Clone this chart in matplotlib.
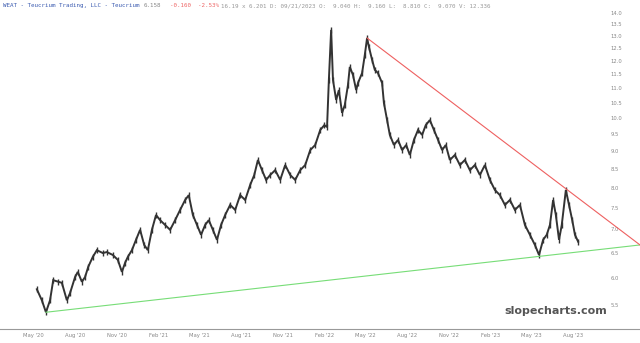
import matplotlib
matplotlib.use('Agg')
import matplotlib.pyplot as plt
import matplotlib.ticker as mticker
import numpy as np
import pandas as pd

# ------------------------------------------------------------ #
# ---------------- data -------------------------------------- #
# ------------------------------------------------------------ #
dates = ['2020-05-09', '2020-05-20', '2020-05-29', '2020-06-07', '2020-06-14', '2020-06-25',
         '2020-07-03', '2020-07-14', '2020-07-21', '2020-08-01', '2020-08-07', '2020-08-16',
         '2020-08-23', '2020-08-30', '2020-09-09', '2020-09-18', '2020-10-01', '2020-10-10',
         '2020-10-23', '2020-11-03', '2020-11-12', '2020-11-19', '2020-11-25', '2020-12-04',
         '2020-12-13', '2020-12-22', '2020-12-31', '2021-01-08', '2021-01-17', '2021-01-26',
         '2021-02-04', '2021-02-15', '2021-02-26', '2021-03-09', '2021-03-20', '2021-03-31',
         '2021-04-08', '2021-04-17', '2021-04-26', '2021-05-05', '2021-05-14', '2021-05-22',
         '2021-05-31', '2021-06-09', '2021-06-18', '2021-06-27', '2021-07-08', '2021-07-19',
         '2021-07-30', '2021-08-10', '2021-08-21', '2021-08-30', '2021-09-07', '2021-09-16',
         '2021-09-25', '2021-10-04', '2021-10-15', '2021-10-26', '2021-11-06', '2021-11-17',
         '2021-11-28', '2021-12-09', '2021-12-20', '2021-12-31', '2022-01-11', '2022-01-22',
         '2022-01-31', '2022-02-06', '2022-02-10', '2022-02-15', '2022-02-19', '2022-02-26',
         '2022-03-04', '2022-03-11', '2022-03-17', '2022-03-24', '2022-03-28', '2022-04-04',
         '2022-04-11', '2022-04-15', '2022-04-24', '2022-04-30', '2022-05-05', '2022-05-09',
         '2022-05-16', '2022-05-22', '2022-05-29', '2022-06-07', '2022-06-11', '2022-06-18',
         '2022-06-24', '2022-07-03', '2022-07-12', '2022-07-21', '2022-07-30', '2022-08-07',
         '2022-08-16', '2022-08-25', '2022-09-03', '2022-09-11', '2022-09-20', '2022-09-29',
         '2022-10-08', '2022-10-17', '2022-10-25', '2022-11-03', '2022-11-14', '2022-11-25',
         '2022-12-06', '2022-12-17', '2022-12-28', '2023-01-08', '2023-01-19', '2023-01-30',
         '2023-02-10', '2023-02-21', '2023-03-04', '2023-03-15', '2023-03-26', '2023-04-06',
         '2023-04-17', '2023-04-28', '2023-05-09', '2023-05-18', '2023-05-27', '2023-06-04',
         '2023-06-11', '2023-06-18', '2023-06-24', '2023-07-01', '2023-07-07', '2023-07-16',
         '2023-07-23', '2023-07-30', '2023-08-05', '2023-08-12']
close = [5.78, 5.58, 5.37, 5.58, 5.95, 5.92,
         5.90, 5.58, 5.71, 6.01, 6.11, 5.92,
         6.01, 6.21, 6.41, 6.55, 6.49, 6.51,
         6.45, 6.35, 6.11, 6.29, 6.41, 6.55,
         6.77, 6.99, 6.66, 6.55, 6.99, 7.33,
         7.21, 7.10, 6.99, 7.21, 7.45, 7.69,
         7.81, 7.33, 7.10, 6.88, 7.10, 7.21,
         6.99, 6.77, 7.10, 7.33, 7.57, 7.45,
         7.81, 7.69, 8.07, 8.33, 8.74, 8.46,
         8.20, 8.33, 8.46, 8.20, 8.60, 8.33,
         8.20, 8.46, 8.60, 9.02, 9.17, 9.62,
         9.77, 9.71, 11.29, 13.25, 11.29, 10.59,
         10.93, 10.16, 10.42, 11.11, 11.77, 11.47,
         10.93, 11.18, 11.54, 12.23, 12.91, 12.55,
         12.04, 11.66, 11.54, 11.18, 10.49, 9.93,
         9.47, 9.17, 9.32, 9.02, 9.17, 8.88,
         9.32, 9.62, 9.47, 9.77, 9.93, 9.62,
         9.32, 9.02, 9.17, 8.74, 8.88, 8.60,
         8.74, 8.46, 8.60, 8.33, 8.60, 8.20,
         7.94, 7.81, 7.57, 7.69, 7.45, 7.57,
         7.10, 6.88, 6.66, 6.45, 6.77, 6.88,
         7.10, 7.69, 7.33, 6.77, 7.10, 7.94,
         7.57, 7.21, 6.88, 6.73]

# trendlines (start, end)
support_dates = ['2020-05-29', '2023-12-26']
support_vals = [5.37, 6.66]
resist_dates = ['2022-05-05', '2023-12-26']
resist_vals = [12.91, 6.66]

xtick_dates = ['2020-05-01', '2020-08-01', '2020-11-01', '2021-02-01', '2021-05-01',
               '2021-08-01', '2021-11-01', '2022-02-01', '2022-05-01', '2022-08-01',
               '2022-11-01', '2023-02-01', '2023-05-01', '2023-08-01']
xtick_labels = ["May '20", "Aug '20", "Nov '20", "Feb '21", "May '21", "Aug '21", "Nov '21",
                "Feb '22", "May '22", "Aug '22", "Nov '22", "Feb '23", "May '23", "Aug '23"]
ytick_vals = [14.0, 13.5, 13.0, 12.5, 12.0, 11.5, 11.0, 10.5, 10.0, 9.5, 9.0,
              8.5, 8.0, 7.5, 7.0, 6.5, 6.0, 5.5]

# ------------------------------------------------------------ #
# ----------------------- FIGURE ----------------------------- #
# ------------------------------------------------------------ #
fig = plt.figure(figsize=(6.4, 3.43), dpi=100)
ax = fig.add_axes([0, 14 / 343, 1, 319 / 343])

d = pd.to_datetime(dates)
# candle-ish look: thick dark trace plus short range ticks
ax.plot(d, close, color='#333333', lw=1.4, marker='|', ms=4, mew=1.0,
        solid_joinstyle='miter')

ax.plot(pd.to_datetime(support_dates), support_vals, color='#77dd77', lw=0.8)
ax.plot(pd.to_datetime(resist_dates), resist_vals, color='#ee6060', lw=0.8)

ax.set_yscale('log')
ax.set_ylim(5.09, 14.12)
ax.set_xlim(pd.Timestamp('2020-02-18'), pd.Timestamp('2023-12-26'))

ax.yaxis.tick_right()
ax.set_yticks(ytick_vals)
ax.yaxis.set_major_formatter(mticker.FormatStrFormatter('%.1f'))
ax.yaxis.set_minor_locator(mticker.NullLocator())
ax.tick_params(axis='y', length=0, pad=-21, labelsize=3.8, labelcolor='#888888')

ax.set_xticks(pd.to_datetime(xtick_dates))
ax.set_xticklabels(xtick_labels)
ax.tick_params(axis='x', length=0, pad=3, labelsize=3.8, labelcolor='#888888')

for s in ['top', 'left', 'right']:
  ax.spines[s].set_visible(False)
ax.spines['bottom'].set_color('#999999')
ax.spines['bottom'].set_linewidth(0.8)

# header line
fig.text(0.005, 0.983, 'WEAT - Teucrium Trading, LLC - Teucrium', fontsize=4.2,
         family='DejaVu Sans Mono', color='#3b5bb0', va='center')
fig.text(0.225, 0.983, '6.158', fontsize=4.2, family='DejaVu Sans Mono',
         color='#888888', va='center')
fig.text(0.265, 0.983, '-0.160  -2.53%', fontsize=4.2, family='DejaVu Sans Mono',
         color='#ee6666', va='center')
fig.text(0.345, 0.983, '16.19 x 6.201 D: 09/21/2023 O:  9.040 H:  9.160 L:  8.810 C:  9.070 V: 12.336',
         fontsize=4.2, family='DejaVu Sans Mono', color='#999999', va='center')

fig.text(0.868, 1 - 311 / 343, 'slopecharts.com', fontsize=8, fontweight='bold',
         color='#555555', ha='center', va='center')

fig.savefig('out.png', dpi=100)
